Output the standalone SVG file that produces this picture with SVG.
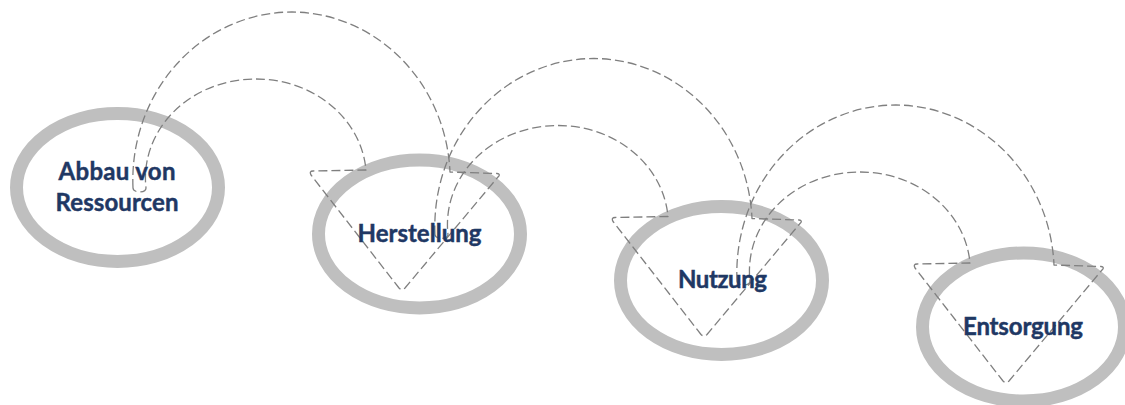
<svg xmlns="http://www.w3.org/2000/svg" xmlns:xlink="http://www.w3.org/1999/xlink" width="1125" height="405" viewBox="0 0 1125 405">
  <style>
    .ring { fill: #ffffff; stroke: #bfbfbf; stroke-width: 13; }
    .label { font-family: Lato, "Open Sans", "Liberation Sans", sans-serif; font-weight: bold; font-size: 24px; fill: #1f3864; stroke: #1f3864; stroke-width: 0.45; text-anchor: middle; }
    .flow { fill: none; stroke: #7f7f7f; stroke-width: 1.3; stroke-dasharray: 9 4; stroke-linejoin: round; }
  </style>
  <defs>
    <!-- curved step arrow: outer and inner arc with a downward head -->
    <path id="stepArrow" d="M133,188 A159,168 0 0 1 292,12 A159,168 0 0 1 450,172 L497,173.5 Q501,174 498,177 L405,288 Q402,291 399,288 L311,175 Q309,171 313,171 L366,170 A110,99 0 0 0 256,79 A110,99 0 0 0 146,188 A6.5,4 0 0 1 133,188 Z"/>
  </defs>

  <!-- process steps: rings -->
  <g id="node-abbau">
    <ellipse class="ring" cx="117.5" cy="187.5" rx="101" ry="74"/>
  </g>
  <g id="node-herstellung">
    <ellipse class="ring" cx="419.5" cy="234" rx="101" ry="74"/>
  </g>
  <g id="node-nutzung">
    <ellipse class="ring" cx="721.5" cy="280.5" rx="101" ry="74"/>
  </g>
  <g id="node-entsorgung">
    <ellipse class="ring" cx="1023.5" cy="327" rx="101" ry="74"/>
  </g>

  <g id="connectors">
    <use class="flow" xlink:href="#stepArrow"/>
    <use class="flow" xlink:href="#stepArrow" transform="translate(302,46.5)"/>
    <use class="flow" xlink:href="#stepArrow" transform="translate(604,93)"/>
  </g>

  <!-- step labels, drawn above the arrows -->
  <g id="node-abbau-label">
    <text class="label" x="117" y="180" textLength="117">Abbau von</text>
    <text class="label" x="117" y="211" textLength="123">Ressourcen</text>
  </g>
  <g id="node-herstellung-label">
    <text class="label" x="419.5" y="242" textLength="124">Herstellung</text>
  </g>
  <g id="node-nutzung-label">
    <text class="label" x="722.5" y="288" textLength="89">Nutzung</text>
  </g>
  <g id="node-entsorgung-label">
    <text class="label" x="1023" y="335" textLength="120">Entsorgung</text>
  </g>
</svg>
